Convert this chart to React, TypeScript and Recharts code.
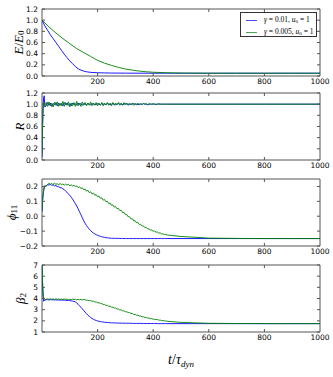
import React from 'react';
import { LineChart, Line, XAxis, YAxis, ReferenceArea } from 'recharts';

// time grids
const tEblue = [0, 10, 20, 30, 40, 50, 60, 70, 80, 90, 100, 110, 120, 130, 140, 150, 160, 170, 180, 200, 225, 250, 300, 400, 500, 600, 700, 800, 900, 1000];
const tEgreen = [0, 25, 50, 75, 100, 125, 150, 175, 200, 225, 250, 275, 300, 325, 350, 375, 400, 450, 500, 600, 700, 800, 900, 1000];
const tNoise = [
  0, 2, 4, 6, 8, 10,
  15, 20, 25, 30, 35, 40, 45, 50, 55, 60, 65, 70, 75, 80, 85, 90, 95, 100, 105, 110, 115, 120, 125, 130, 135, 140, 145, 150,
  155, 160, 165, 170, 175, 180, 185, 190, 195, 200, 205, 210, 215, 220, 225, 230, 235, 240, 245, 250, 255, 260, 265, 270, 275, 280,
  285, 290, 295, 300, 305, 310, 315, 320, 325, 330, 335, 340, 345, 350, 355, 360, 365, 370, 375, 380, 385, 390, 395, 400,
  405, 410, 415, 420, 425, 430, 435, 440, 445, 450,
  500, 600, 700, 800, 900, 1000,
];

// E / E0
const eBlue = [1.0, 0.9, 0.82, 0.74, 0.67, 0.6, 0.53, 0.46, 0.39, 0.33, 0.27, 0.22, 0.17, 0.13, 0.105, 0.088, 0.076, 0.068, 0.063, 0.058, 0.055, 0.053, 0.051, 0.05, 0.05, 0.05, 0.05, 0.05, 0.05, 0.05];
const eGreen = [1.0, 0.88, 0.77, 0.67, 0.58, 0.49, 0.42, 0.35, 0.28, 0.23, 0.19, 0.155, 0.125, 0.105, 0.088, 0.076, 0.067, 0.058, 0.053, 0.05, 0.05, 0.05, 0.05, 0.05];

// R
const rBlue = [
  0.05, 0.55, 0.97, 1.12, 1.15, 0.95,
  0.97, 1.03, 0.98, 1.02, 0.96, 1.01, 0.99, 1.03, 0.97, 1.02,
  0.98, 1.01, 0.97, 1.03, 0.99, 1.02, 0.98, 1.01, 0.97, 1.02,
  0.99, 1.01, 0.98, 1.02, 0.99, 1.01, 0.98, 1.01,
  1.0, 0.99, 1.01, 1.0, 0.99, 1.01, 1.0, 1.0, 0.99, 1.01,
  1.0, 0.99, 1.01, 1.0, 1.0, 0.99, 1.01, 1.0, 0.99, 1.0,
  1.01, 1.0, 0.99, 1.0, 1.01, 1.0, 1.0, 0.99, 1.0, 1.01,
  1.0, 1.0, 0.99, 1.0, 1.0, 1.01, 1.0, 1.0, 0.99, 1.0,
  1.0, 1.0, 1.01, 1.0, 1.0, 0.99, 1.0, 1.0, 1.0, 1.0,
  1.0, 1.0, 1.0, 1.0, 1.0, 1.0, 1.0, 1.0, 1.0, 1.0,
  1.0, 1.0, 1.0, 1.0, 1.0, 1.0,
];
const rGreen = [
  0.1, 0.65, 0.92, 0.99, 1.03, 0.97,
  1.03, 0.96, 1.04, 0.97, 1.02, 0.95, 1.03, 0.98, 1.04, 0.96,
  1.02, 0.97, 1.05, 0.96, 1.03, 0.98, 1.04, 0.95, 1.02, 0.97,
  1.03, 0.96, 1.05, 0.97, 1.02, 0.96, 1.04, 0.98,
  1.03, 0.97, 1.02, 0.98, 1.04, 0.97, 1.02, 0.98, 1.03, 0.97,
  1.02, 0.98, 1.03, 0.97, 1.02, 0.99, 1.03, 0.98, 1.02, 0.97,
  1.03, 0.98, 1.02, 0.99, 1.03, 0.98, 1.02, 0.98, 1.03, 0.99,
  1.02, 0.98, 1.02, 0.99, 1.02, 0.98, 1.01, 0.99, 1.02, 0.99,
  1.01, 0.99, 1.01, 1.0, 1.01, 0.99, 1.01, 1.0, 1.0, 1.01,
  1.0, 0.99, 1.0, 1.01, 1.0, 1.0, 1.0, 1.0, 1.0, 1.0,
  1.0, 1.0, 1.0, 1.0, 1.0, 1.0,
];

// phi_11
const phiBlue = [
  0.03, 0.1, 0.14, 0.17, 0.19, 0.2,
  0.205, 0.212, 0.209, 0.214, 0.208, 0.21, 0.204, 0.206, 0.199, 0.198,
  0.192, 0.191, 0.184, 0.179, 0.169, 0.161, 0.15, 0.14, 0.128, 0.115,
  0.1, 0.085, 0.068, 0.05, 0.03, 0.01, -0.01, -0.03, -0.047, -0.062,
  -0.075, -0.087, -0.097, -0.106, -0.113, -0.119, -0.124, -0.128, -0.132, -0.135,
  -0.138, -0.14, -0.142, -0.144, -0.145, -0.146, -0.147, -0.148,
  -0.148, -0.149, -0.148, -0.149, -0.149, -0.149, -0.15, -0.149, -0.15, -0.15,
  -0.15, -0.15, -0.15, -0.15, -0.15, -0.15, -0.15, -0.15, -0.15, -0.15,
  -0.15, -0.15, -0.15, -0.15, -0.15, -0.15, -0.15, -0.15, -0.15, -0.15,
  -0.15, -0.15, -0.15, -0.15, -0.15, -0.15, -0.15, -0.15, -0.15, -0.15,
  -0.15, -0.15, -0.15, -0.15, -0.15, -0.15,
];
const phiGreen = [
  0.04, 0.11, 0.15, 0.18, 0.2, 0.205,
  0.2, 0.212, 0.222, 0.213, 0.221, 0.211, 0.223, 0.214, 0.219, 0.209,
  0.221, 0.211, 0.217, 0.208, 0.216, 0.209, 0.214, 0.204, 0.211, 0.202,
  0.208, 0.2,
  0.203, 0.192, 0.198, 0.186, 0.191, 0.178, 0.183, 0.168, 0.174, 0.159,
  0.164, 0.15, 0.155, 0.141, 0.145, 0.131, 0.135, 0.12, 0.124, 0.108,
  0.112, 0.097, 0.1, 0.084, 0.088, 0.073, 0.076, 0.061, 0.065, 0.05,
  0.053, 0.038, 0.04, 0.024, 0.026, 0.01, 0.012, -0.004, -0.003, -0.018,
  -0.017, -0.032, -0.03, -0.044, -0.042, -0.055, -0.055, -0.066, -0.065, -0.076,
  -0.075, -0.086, -0.085, -0.093, -0.093, -0.101, -0.1, -0.107, -0.106, -0.113,
  -0.112, -0.119, -0.118, -0.123, -0.122, -0.126,
  -0.136, -0.147, -0.149, -0.15, -0.15, -0.15,
];

// beta_2
const betaBlue = [
  7.0, 5.3, 4.2, 3.75, 3.8, 3.85,
  3.88, 3.9, 3.87, 3.9, 3.88, 3.89, 3.87, 3.88, 3.86, 3.87,
  3.86, 3.86, 3.85, 3.85, 3.84, 3.83, 3.82, 3.81, 3.79, 3.77,
  3.74, 3.69, 3.6, 3.48, 3.35, 3.22, 3.08, 2.93, 2.78, 2.64,
  2.51, 2.4, 2.3, 2.21, 2.14, 2.08, 2.03, 1.99, 1.96, 1.93,
  1.91, 1.89, 1.87, 1.86, 1.85, 1.84, 1.83, 1.82,
  1.82, 1.81, 1.81, 1.8, 1.8, 1.8, 1.79, 1.79, 1.79, 1.79,
  1.78, 1.78, 1.78, 1.78, 1.78, 1.77, 1.77, 1.77, 1.77, 1.77,
  1.77, 1.76, 1.76, 1.76, 1.76, 1.76, 1.76, 1.76, 1.76, 1.76,
  1.76, 1.76, 1.75, 1.75, 1.75, 1.75, 1.75, 1.75, 1.75, 1.75,
  1.75, 1.75, 1.75, 1.75, 1.75, 1.75,
];
const betaGreen = [
  7.0, 5.6, 4.4, 4.05, 3.95, 3.9,
  3.93, 3.97, 3.92, 3.98, 3.93, 3.96, 3.91, 3.97, 3.92, 3.96,
  3.91, 3.95, 3.9, 3.96, 3.91, 3.95, 3.9, 3.94, 3.89, 3.95,
  3.9, 3.94, 3.88, 3.93, 3.88, 3.92, 3.87, 3.91,
  3.88, 3.84, 3.85, 3.8, 3.82, 3.75, 3.76, 3.69, 3.7, 3.61,
  3.63, 3.54, 3.55, 3.46, 3.47, 3.38, 3.39, 3.3, 3.31, 3.22,
  3.23, 3.14, 3.15, 3.05, 3.06, 2.97, 2.98, 2.89, 2.9, 2.81,
  2.82, 2.73, 2.74, 2.65, 2.66, 2.57, 2.58, 2.5, 2.51, 2.43,
  2.44, 2.36, 2.37, 2.3, 2.31, 2.24, 2.25, 2.19, 2.2, 2.14,
  2.15, 2.11, 2.12, 2.06, 2.07, 2.02, 2.03, 1.99, 1.99, 1.96,
  1.86, 1.78, 1.76, 1.75, 1.75, 1.75,
];

const xTicks = [0, 200, 400, 600, 800, 1000];
const unitTicks = [0, 0.2, 0.4, 0.6, 0.8, 1.0, 1.2];
const phiTicks = [-0.2, -0.1, 0, 0.1, 0.2];
const betaTicks = [1, 2, 3, 4, 5, 6, 7];

const BLUE = '#0000ff';
const GREEN = '#008000';
const FRAME = '#555';
const W = 333;
const PLOT_L = 42;
const PLOT_R = 320;
const MT = 5;
const PH = 67;
const TICK_FONT = '"DejaVu Sans", sans-serif';
const MATH_FONT = '"Liberation Serif", "DejaVu Serif", serif';

const zip = (ts: number[], vs: number[]) => ts.map((t, i) => ({ t, v: vs[i] }));

function XTick(props: any) {
  const { x, y, payload } = props;
  const v = payload.value;
  const edge = v === 0 || v === 1000;
  return (
    <g>
      {!edge && <line x1={x} x2={x} y1={MT + PH} y2={MT + PH - 3} stroke={FRAME} />}
      {!edge && <line x1={x} x2={x} y1={MT} y2={MT + 3} stroke={FRAME} />}
      {v !== 0 && (
        <text x={x} y={y} dy="0.71em" textAnchor="middle" fontSize={7.5} fontFamily={TICK_FONT} fill="#000">
          {v}
        </text>
      )}
    </g>
  );
}

function YTick(props: any) {
  const { x, y, payload, fmt } = props;
  return (
    <g>
      <line x1={PLOT_L} x2={PLOT_L + 3} y1={y} y2={y} stroke={FRAME} />
      <line x1={PLOT_R - 3} x2={PLOT_R} y1={y} y2={y} stroke={FRAME} />
      <text x={x} y={y} dy="0.35em" textAnchor="end" fontSize={7.5} fontFamily={TICK_FONT} fill="#000">
        {fmt(payload.value)}
      </text>
    </g>
  );
}

const fmt1 = (v: number) => (v < 0 ? '\u2212' + Math.abs(v).toFixed(1) : v.toFixed(1));
const fmt0 = (v: number) => String(v);

type Series = { data: { t: number; v: number }[]; color: string };

function Panel(props: {
  top: number;
  domain: [number, number];
  ticks: number[];
  fmt: (v: number) => string;
  series: Series[];
  ylabel: React.ReactNode;
  labelX: number;
  xLabel?: React.ReactNode;
}) {
  const { top, domain, ticks, fmt, series, ylabel, labelX, xLabel } = props;
  const xh = xLabel ? 45 : 20;
  const cy = MT + PH / 2;
  return (
    <div style={{ position: 'absolute', left: 0, top: top - MT }}>
      <LineChart width={W} height={MT + PH + xh} margin={{ top: MT, right: W - PLOT_R, bottom: 0, left: 0 }}>
        <XAxis
          type="number"
          dataKey="t"
          domain={[0, 1000]}
          ticks={xTicks}
          interval={0}
          allowDataOverflow
          axisLine={false}
          tickLine={false}
          tickSize={0}
          tickMargin={3}
          height={xh}
          tick={<XTick />}
          label={
            xLabel
              ? {
                  content: () => (
                    <text x={(PLOT_L + PLOT_R) / 2} y={MT + PH + 32} textAnchor="middle" fontSize={14} fontFamily={MATH_FONT} fill="#000">
                      {xLabel}
                    </text>
                  ),
                }
              : undefined
          }
        />
        <YAxis
          type="number"
          domain={domain}
          ticks={ticks}
          interval={0}
          allowDataOverflow
          width={PLOT_L}
          axisLine={false}
          tickLine={false}
          tickSize={0}
          tickMargin={4}
          tick={<YTick fmt={fmt} />}
          label={{
            content: () => (
              <text
                x={labelX}
                y={cy}
                transform={`rotate(-90 ${labelX} ${cy})`}
                textAnchor="middle"
                dominantBaseline="central"
                fontSize={13}
                fontFamily={MATH_FONT}
                fill="#000"
              >
                {ylabel}
              </text>
            ),
          }}
        />
        <ReferenceArea x1={0} x2={1000} y1={domain[0]} y2={domain[1]} fill="none" stroke={FRAME} strokeWidth={1} ifOverflow="visible" />
        {series.map((s, i) => (
          <Line
            key={i}
            data={s.data}
            dataKey="v"
            type="linear"
            stroke={s.color}
            strokeWidth={0.9}
            dot={false}
            activeDot={false}
            isAnimationActive={false}
          />
        ))}
      </LineChart>
    </div>
  );
}

const it = { fontStyle: 'italic' as const };

function LegendBox() {
  const row = (color: string, g: string) => (
    <div style={{ display: 'flex', alignItems: 'center', height: 12 }}>
      <div style={{ width: 11, height: 0, borderTop: `1.5px solid ${color}`, marginLeft: 5, marginRight: 7, opacity: 0.7 }} />
      <span>
        <i>γ</i> = {g}, <i>u</i>
        <sub style={{ fontSize: 5, verticalAlign: -1 }}>0</sub> = 1
      </span>
    </div>
  );
  return (
    <div
      style={{
        position: 'absolute',
        left: 240,
        top: 12,
        width: 77,
        height: 25,
        border: '1px solid #333',
        background: '#fff',
        fontFamily: MATH_FONT,
        fontSize: 7.5,
        lineHeight: 1,
        paddingTop: 1,
        boxSizing: 'border-box',
        whiteSpace: 'nowrap',
      }}
    >
      {row(BLUE, '0.01')}
      {row(GREEN, '0.005')}
    </div>
  );
}

export default function App() {
  return (
    <div style={{ position: 'absolute', left: 0, top: 0, width: W, height: 377, background: '#fff' }}>
      <Panel
        top={9}
        domain={[0, 1.2]}
        ticks={unitTicks}
        fmt={fmt1}
        labelX={18}
        ylabel={
          <>
            <tspan style={it}>E</tspan>
            <tspan>/</tspan>
            <tspan style={it}>E</tspan>
            <tspan fontSize={9} dy={3}>0</tspan>
          </>
        }
        series={[
          { data: zip(tEblue, eBlue), color: BLUE },
          { data: zip(tEgreen, eGreen), color: GREEN },
        ]}
      />
      <Panel
        top={93}
        domain={[0, 1.2]}
        ticks={unitTicks}
        fmt={fmt1}
        labelX={19}
        ylabel={<tspan style={it}>R</tspan>}
        series={[
          { data: zip(tNoise, rBlue), color: BLUE },
          { data: zip(tNoise, rGreen), color: GREEN },
        ]}
      />
      <Panel
        top={179}
        domain={[-0.2, 0.25]}
        ticks={phiTicks}
        fmt={fmt1}
        labelX={11}
        ylabel={
          <>
            <tspan style={it}>ϕ</tspan>
            <tspan fontSize={9} dy={3}>11</tspan>
          </>
        }
        series={[
          { data: zip(tNoise, phiBlue), color: BLUE },
          { data: zip(tNoise, phiGreen), color: GREEN },
        ]}
      />
      <Panel
        top={265}
        domain={[1, 7]}
        ticks={betaTicks}
        fmt={fmt0}
        labelX={20}
        ylabel={
          <>
            <tspan style={it}>β</tspan>
            <tspan fontSize={9} dy={3}>2</tspan>
          </>
        }
        series={[
          { data: zip(tNoise, betaBlue), color: BLUE },
          { data: zip(tNoise, betaGreen), color: GREEN },
        ]}
        xLabel={
          <>
            <tspan style={it}>t</tspan>
            <tspan>/</tspan>
            <tspan style={it}>τ</tspan>
            <tspan style={it} fontSize={9} dy={3}>dyn</tspan>
          </>
        }
      />
      <LegendBox />
    </div>
  );
}
